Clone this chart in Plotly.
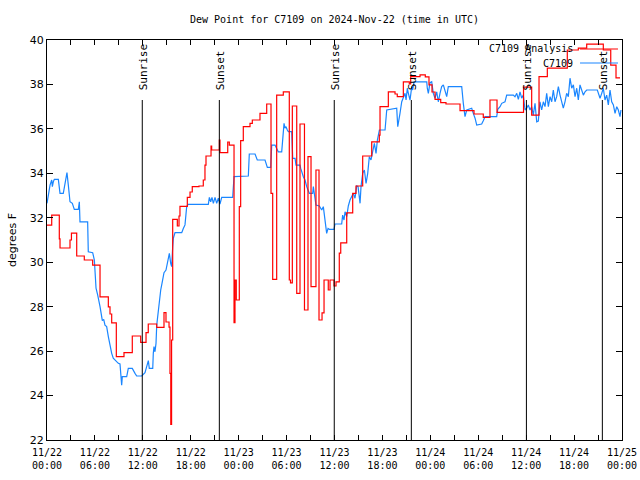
import pandas as pd
import plotly.graph_objects as go

# ---- data (hours after 2024-11-22 00:00 UTC, degrees F) ----
analysis_hours = [0, 0.59, 1.54, 1.63, 2.88, 3.06, 3.72, 4.67, 5.72, 6.64, 7.68, 7.89, 8.1, 8.68, 9.64,
                  10.68, 11.73, 12.4, 12.68, 13.74, 14.65, 14.9, 15.28, 15.4, 15.5, 15.6, 15.74, 16.32,
                  16.53, 16.65, 17.57, 17.91, 18.19, 19.03, 19.57, 19.78, 19.91, 20.54, 20.62, 21.58,
                  21.66, 22.63, 22.83, 23.42, 23.54, 23.7, 24.08, 24.25, 24.58, 25.42, 25.71, 26.67,
                  27.51, 28.05, 28.26, 28.76, 29.59, 30.34, 30.49, 30.72, 31.27, 31.68, 32.24, 32.68,
                  33.06, 33.68, 34.06, 34.44, 34.69, 35.22, 35.44, 35.94, 36.19, 36.6, 36.78, 37.53,
                  38.28, 38.69, 39.53, 40.66, 41.61, 41.7, 42.74, 43.58, 43.86, 44.62, 45.37, 45.54,
                  46.71, 47.37, 47.83, 48.21, 48.59, 49.3, 49.96, 51.72, 53.47, 54.63, 55.47, 56.35,
                  59.67, 60.69, 61.61, 62.65, 65.15, 66.53, 67.58, 69.66, 70.59, 71.25, 71.75]
analysis_vals = [31.67, 32.12, 31.05, 30.64, 31.0, 31.31, 30.28, 30.1, 29.87, 28.44, 27.99, 27.67, 27.27,
                 25.75, 25.93, 26.68, 26.39, 26.83, 27.22, 27.07, 27.73, 27.31, 27.08, 25.0, 22.7, 26.5,
                 31.93, 31.63, 32.08, 32.51, 32.92, 33.16, 33.4, 33.43, 33.7, 34.37, 34.78, 35.23, 35.05,
                 35.5, 34.93, 35.41, 35.27, 27.28, 29.2, 28.3, 32.5, 35.47, 36.1, 36.25, 36.4, 36.7,
                 37.12, 33.1, 29.23, 37.52, 37.67, 29.2, 29.07, 37.03, 28.6, 36.22, 27.85, 34.75, 28.9,
                 34.15, 27.4, 27.72, 29.2, 28.75, 29.2, 28.93, 29.12, 30.41, 30.87, 32.22, 33.1, 33.43,
                 34.78, 35.42, 35.72, 37.0, 37.67, 37.57, 37.45, 38.12, 38.02, 38.35, 38.43, 38.34,
                 37.98, 37.66, 37.33, 37.18, 37.12, 36.82, 36.67, 36.52, 37.3, 36.74, 37.88, 36.62,
                 38.35, 38.73, 39.55, 39.63, 39.81, 39.55, 38.87, 38.3, 38.3]

station_hours = [0, 0.17, 0.38, 0.59, 0.67, 0.79, 0.92, 1.42, 1.5, 1.63, 2.04, 2.17, 2.34, 2.5, 2.67,
                 2.88, 3.17, 3.42, 3.92, 4.05, 4.13, 5.09, 5.17, 5.72, 5.93, 6.01, 6.14, 6.35, 6.51,
                 6.64, 6.93, 7.1, 7.26, 7.47, 7.68, 7.89, 8.1, 8.3, 8.51, 8.93, 9.14, 9.35, 9.43, 9.98,
                 10.18, 10.68, 11.02, 11.23, 11.86, 12.27, 12.48, 12.69, 12.81, 13.24, 13.31, 13.4,
                 13.52, 13.65, 13.74, 13.94, 14.24, 14.4, 14.65, 14.9, 15.07, 15.32, 15.49, 15.61,
                 15.74, 15.82, 16.03, 16.87, 17.07, 17.28, 17.49, 17.66, 20.2, 20.33, 20.5, 20.66,
                 20.83, 21.04, 21.25, 21.45, 21.66, 21.88, 23.25, 23.33, 23.42, 25.21, 25.33, 26.05,
                 26.17, 26.33, 27.3, 27.42, 27.59, 28.01, 28.14, 28.55, 28.76, 28.96, 29.39, 29.51,
                 29.68, 29.8, 29.93, 30.09, 30.22, 30.64, 30.77, 31.06, 31.18, 31.68, 31.77, 32.1,
                 32.31, 32.52, 32.85, 33.27, 33.35, 33.47, 33.68, 34.1, 34.4, 34.6, 34.69, 34.85,
                 35.02, 35.19, 35.35, 35.94, 36.06, 36.9, 37.02, 37.19, 37.32, 37.53, 37.73, 37.94,
                 38.15, 38.36, 38.57, 38.78, 38.95, 39.11, 39.2, 39.32, 39.53, 39.74, 39.95, 40.16,
                 40.36, 40.57, 40.78, 40.99, 41.2, 41.37, 41.62, 42.33, 42.54, 43.79, 43.92, 44.04,
                 44.2, 44.42, 44.62, 44.83, 44.96, 45.12, 45.25, 45.46, 45.67, 45.79, 45.96, 47.55,
                 47.62, 47.75, 47.96, 48.17, 48.37, 48.59, 48.8, 49.0, 49.21, 49.42, 49.63, 49.84,
                 50.05, 50.25, 51.93, 52.13, 52.34, 52.56, 53.18, 53.38, 53.6, 53.81, 54.43, 54.63,
                 54.85, 56.31, 56.44, 56.73, 56.94, 57.35, 57.56, 58.39, 58.6, 58.82, 59.02, 59.23,
                 59.44, 59.64, 59.86, 60.07, 60.27, 60.48, 60.69, 60.89, 61.11, 61.32, 61.52, 61.73,
                 61.94, 62.15, 62.36, 62.57, 62.78, 62.99, 63.2, 63.4, 63.61, 63.82, 64.03, 64.24,
                 64.45, 64.65, 64.86, 65.07, 65.28, 65.49, 65.7, 65.91, 66.12, 66.33, 66.53, 66.74,
                 66.95, 67.16, 67.37, 67.58, 68.91, 69.25, 69.46, 69.66, 69.87, 70.08, 70.29, 70.5,
                 70.71, 70.92, 71.13, 71.34, 71.54, 71.75, 71.87]
station_vals = [32.65, 33.1, 33.47, 33.7, 33.4, 33.62, 33.73, 33.73, 33.47, 33.1, 33.1, 33.4, 33.78,
                34.03, 33.47, 32.72, 32.65, 32.38, 32.38, 32.72, 31.82, 31.82, 30.47, 30.43, 30.1,
                29.5, 28.83, 28.52, 28.3, 28.0, 27.37, 27.43, 27.17, 27.1, 26.65, 26.2, 25.9, 25.68,
                25.6, 25.45, 25.42, 24.47, 24.85, 24.85, 25.22, 25.22, 25.0, 24.88, 24.88, 25.03,
                25.3, 25.57, 25.22, 25.22, 25.9, 26.2, 25.97, 26.35, 27.17, 27.85, 28.75, 29.05,
                29.53, 29.65, 30.02, 30.4, 29.95, 29.8, 30.7, 31.08, 31.33, 31.33, 31.52, 31.68,
                32.5, 32.6, 32.6, 32.92, 32.72, 32.92, 32.65, 32.92, 32.65, 32.88, 32.62, 32.92,
                32.92, 33.4, 33.85, 33.88, 34.87, 34.87, 34.75, 34.6, 34.6, 34.45, 34.27, 34.27,
                35.27, 35.27, 35.12, 34.97, 34.97, 35.5, 36.25, 36.03, 36.1, 35.95, 35.88, 35.88,
                34.67, 34.67, 34.37, 34.37, 34.22, 33.85, 33.7, 33.4, 33.1, 33.1, 33.4, 33.1, 32.57,
                32.53, 32.35, 32.5, 32.2, 31.9, 31.3, 31.52, 31.48, 31.48, 31.72, 31.72, 32.12, 31.9,
                32.27, 32.05, 32.53, 32.8, 32.95, 33.1, 32.88, 33.43, 33.4, 32.95, 32.65, 33.4, 34.0,
                34.15, 33.55, 34.0, 34.75, 34.6, 35.05, 35.35, 34.9, 35.5, 35.95, 35.95, 36.85,
                36.93, 36.1, 36.48, 36.7, 37.22, 37.45, 37.6, 37.3, 37.83, 37.6, 37.3, 37.9, 37.75,
                38.12, 38.12, 37.83, 37.6, 38.08, 38.12, 37.6, 37.38, 37.67, 37.22, 37.6, 37.9,
                37.98, 37.75, 37.45, 37.9, 37.9, 37.15, 36.55, 36.85, 36.93, 36.7, 36.48, 36.17,
                36.22, 36.37, 36.55, 36.55, 36.88, 37.0, 37.15, 37.22, 37.52, 37.52, 37.45, 37.6,
                37.33, 37.67, 37.38, 37.52, 36.85, 36.93, 37.08, 36.85, 37.0, 36.62, 37.15, 36.32,
                36.35, 37.22, 36.85, 37.22, 37.0, 37.6, 37.0, 37.45, 37.22, 37.75, 37.22, 37.45,
                37.9, 37.52, 37.22, 36.93, 37.22, 37.6, 37.45, 38.28, 37.83, 37.98, 37.45, 37.83,
                37.3, 37.98, 37.75, 37.52, 37.67, 37.75, 37.75, 37.38, 37.6, 37.83, 37.3, 37.52,
                37.08, 37.75, 37.22, 37.08, 36.7, 37.0, 36.85, 36.55, 36.85]

event_names = ["Sunrise", "Sunset", "Sunrise", "Sunset", "Sunrise", "Sunset"]
event_hours = [11.93, 21.58, 35.97, 45.62, 60.03, 69.54]

series_names = ["C7109 Analysis", "C7109"]
title_text = "Dew Point for C7109 on 2024-Nov-22 (time in UTC)"
y_label = "degrees F"

# ---- build ----
base = pd.Timestamp("2024-11-22 00:00")
def to_time(hours):
    return [base + pd.Timedelta(hours=h) for h in hours]

RED = "#ff0000"
BLUE = "#1a86ff"
MONO = "DejaVu Sans Mono"
SANS = "DejaVu Sans"

fig = go.Figure()
fig.add_trace(go.Scatter(x=to_time(station_hours), y=station_vals, mode="lines",
                         line=dict(color=BLUE, width=1.2), name=series_names[1], showlegend=False))
fig.add_trace(go.Scatter(x=to_time(analysis_hours), y=analysis_vals, mode="lines",
                         line=dict(color=RED, width=1.2, shape="hv"), name=series_names[0],
                         showlegend=False))

# sunrise / sunset markers
for name, h in zip(event_names, event_hours):
    t = base + pd.Timedelta(hours=h)
    fig.add_shape(type="line", xref="x", yref="paper", x0=t, x1=t, y0=0, y1=0.85,
                  line=dict(color="black", width=1))
    fig.add_annotation(x=t, xref="x", y=0.87, yref="paper", text=name, textangle=-90,
                       showarrow=False, xanchor="center", yanchor="bottom", xshift=1,
                       font=dict(family=MONO, size=11, color="black"))

# legend (gnuplot style: text then sample)
legend_colors = [RED, BLUE]
legend_y = [0.9775, 0.9425]
for name, col, ly in zip(series_names, legend_colors, legend_y):
    fig.add_annotation(x=0.918, xref="paper", y=ly, yref="paper", text=name, showarrow=False,
                       xanchor="right", yanchor="middle",
                       font=dict(family=MONO, size=10, color="black"))
    fig.add_shape(type="line", xref="paper", yref="paper", x0=0.927, x1=0.993, y0=ly, y1=ly,
                  line=dict(color=col, width=1.2))

fig.update_layout(
    width=640, height=480,
    margin=dict(l=47, r=18, t=40, b=40),
    paper_bgcolor="white", plot_bgcolor="white",
    title=dict(text=title_text, x=0.5, xref="paper", y=1 - 19 / 480, yref="container",
               xanchor="center", yanchor="middle",
               font=dict(family=MONO, size=10, color="black")),
    showlegend=False,
)
fig.update_xaxes(
    type="date", range=[base, base + pd.Timedelta(hours=72)], automargin=False,
    tick0=base, dtick=6 * 3600 * 1000, tickformat="%m/%d<br>%H:%M",
    ticks="inside", ticklen=5, tickcolor="black", ticklabelstandoff=3,
    showline=True, linecolor="black", linewidth=1, mirror="allticks",
    showgrid=False, zeroline=False,
    tickfont=dict(family=MONO, size=10, color="black"),
    minor=dict(dtick=3 * 3600 * 1000, ticks="inside", ticklen=5, tickcolor="black", showgrid=False),
)
fig.update_yaxes(
    range=[22, 40], dtick=2, ticks="inside", ticklen=6, tickcolor="black", automargin=False,
    showline=True, linecolor="black", linewidth=1, mirror="allticks",
    showgrid=False, zeroline=False,
    tickfont=dict(family=SANS, size=11, color="black"),
    title=dict(text=y_label, font=dict(family=SANS, size=11, color="black"), standoff=10),
)

fig.write_html("out.html", config={"displayModeBar": False},
               post_script="document.body.style.margin='0';document.body.style.overflow='hidden';")
